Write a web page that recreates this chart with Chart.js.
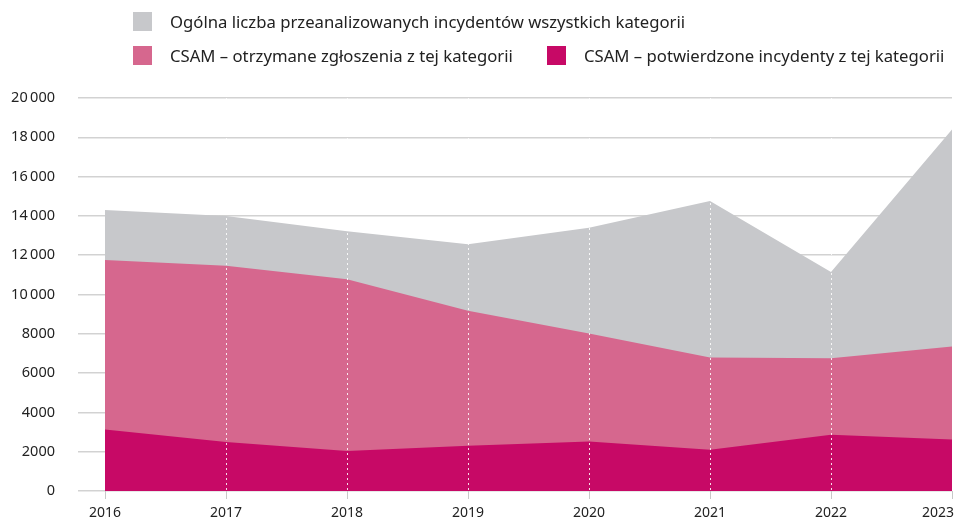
<!DOCTYPE html>
<html>
<head>
<meta charset="utf-8">
<script src="https://cdn.jsdelivr.net/npm/chart.js@4"></script>
<style>
  html, body { margin: 0; padding: 0; background: #fff; }
  #wrap { position: relative; width: 955px; height: 523px; overflow: hidden; }
  #chart-box { position: absolute; left: 0; top: 0; width: 955px; height: 523px; }
  .legend { position: absolute; left: 133px; font-family: "Noto Sans", sans-serif; font-size: 16.7px; color: #222; }
  .legend span.item { position: absolute; white-space: nowrap; display: flex; align-items: center; }
  .legend i { display: inline-block; width: 19px; height: 19px; margin-right: 18px; }
</style>
</head>
<body>
<div id="wrap">
  <div id="chart-box"><canvas id="vis-chart"></canvas></div>
  <div class="legend" id="legend"></div>
</div>
<script>
// categories + series
const years = ['2016', '2017', '2018', '2019', '2020', '2021', '2022', '2023'];
const totalIncidents = [14300, 14000, 13220, 12560, 13400, 14760, 11150, 18400];
const csamReports = [11760, 11460, 10780, 9170, 8020, 6800, 6750, 7350];
const csamConfirmed = [3130, 2490, 2030, 2300, 2520, 2100, 2860, 2620];
const yTicks = [0, 2000, 4000, 6000, 8000, 10000, 12000, 14000, 16000, 18000, 20000];

const seriesNames = [
  'Ogólna liczba przeanalizowanych incydentów wszystkich kategorii',
  'CSAM – otrzymane zgłoszenia z tej kategorii',
  'CSAM – potwierdzone incydenty z tej kategorii'
];
const colors = ['#c7c8cb', '#d6678e', '#c70966'];

// html legend: first item alone on row 1, other two on row 2
const legendPos = [[0, 10], [0, 44], [414, 44]];
const legendEl = document.getElementById('legend');
seriesNames.forEach((name, i) => {
  const s = document.createElement('span');
  s.className = 'item';
  s.style.left = legendPos[i][0] + 'px';
  s.style.top = legendPos[i][1] + 'px';
  s.innerHTML = `<i style="background:${colors[i]}"></i>${name}`;
  legendEl.appendChild(s);
});

const fmt = v => v >= 10000 ? String(v).replace(/\B(?=(\d{3})+(?!\d))/g, '\u2009') : String(v);

const area = (label, data, color) => ({
  label,
  data,
  fill: 'origin',
  backgroundColor: color,
  borderColor: color,
  borderWidth: 0,
  pointRadius: 0,
  tension: 0
});

const cfg = {
  type: 'line',
  data: {
    labels: years,
    // index 0 is drawn on top, so the biggest series goes last
    datasets: [
      area(seriesNames[2], csamConfirmed, colors[2]),
      area(seriesNames[1], csamReports, colors[1]),
      area(seriesNames[0], totalIncidents, colors[0])
    ]
  },
  options: {
    responsive: true,
    maintainAspectRatio: false,
    animation: false,
    layout: { padding: { top: 98, right: 3, left: 0, bottom: 0 } },
    plugins: { legend: { display: false }, tooltip: { enabled: false } },
    scales: {
      x: {
        offset: false,
        grid: {
          z: 1, // dotted verticals sit on top of the areas
          color: ctx => ctx.index === 0 ? 'rgba(255,255,255,0)' : 'rgba(255,255,255,0.85)',
          lineWidth: 1,
          tickColor: '#c8c8c8',
          tickLength: 8,
          tickBorderDash: []
        },
        border: { display: false, dash: [2, 3] },
        ticks: {
          color: '#222',
          font: { family: 'Noto Sans', size: 14 },
          padding: 6,
          maxRotation: 0,
          autoSkip: false,
          // last label gets clipped at the edge like the original, push it left a bit
          callback: function (v, i) {
            const l = this.getLabelForValue(v);
            return i === years.length - 1 ? l + '\u2003\u2003' : l;
          }
        },
        afterFit: s => { s.paddingRight = 0; s.height = 32; }
      },
      y: {
        min: 0,
        max: 20000,
        afterBuildTicks: s => { s.ticks = yTicks.map(v => ({ value: v })); },
        grid: {
          color: '#d2d2d2',
          lineWidth: 1.5,
          tickLength: 27
        },
        border: { display: false },
        ticks: {
          color: '#222',
          font: { family: 'Noto Sans', size: 14.5 },
          padding: 23,
          callback: v => fmt(v)
        },
        afterFit: s => { s.width = 105; }
      }
    }
  }
};

new Chart(document.getElementById('vis-chart'), cfg);
</script>
</body>
</html>
